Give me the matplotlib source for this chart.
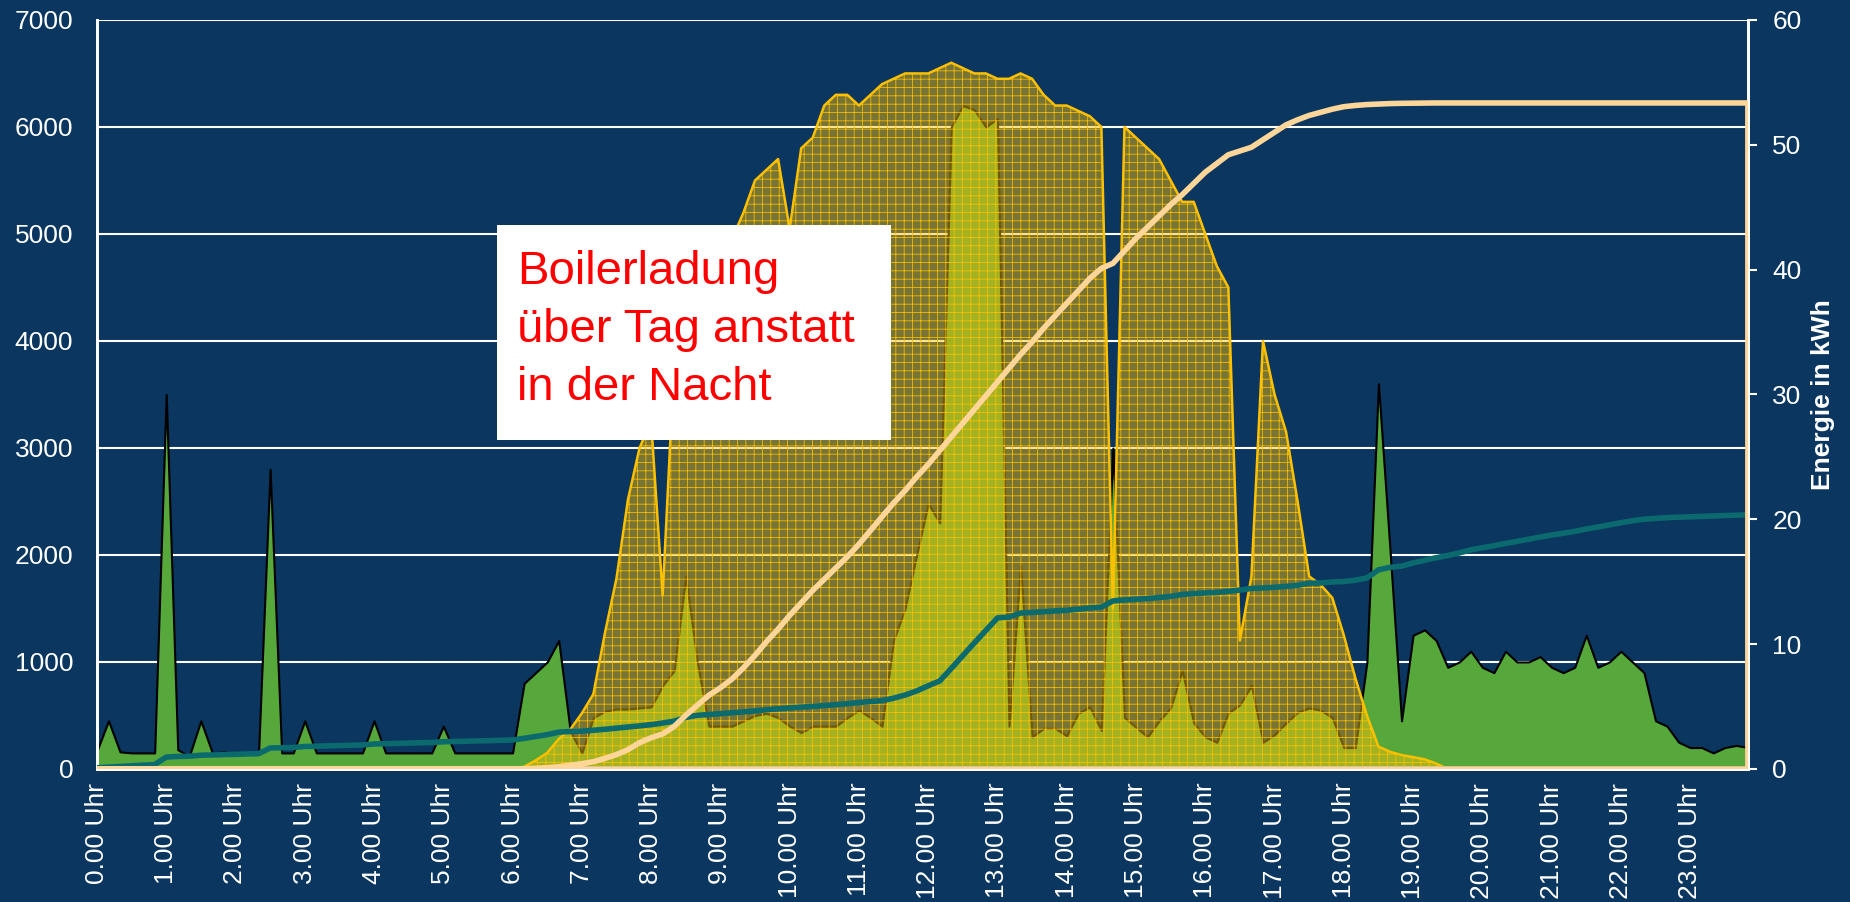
import numpy as np
import matplotlib
matplotlib.use("Agg")
import matplotlib.pyplot as plt
from matplotlib.patches import Rectangle

plt.rcParams['font.family'] = ['Liberation Sans', 'DejaVu Sans']
plt.rcParams['hatch.linewidth'] = 0.55

# 10-Minuten-Werte ueber den Tag (144 Werte), Leistung in W
verbrauch = [170, 450, 160, 150, 150, 150, 3500, 180, 120, 450, 150, 160,
             140, 140, 150, 2800, 150, 150, 450, 150, 150, 150, 150, 150,
             450, 150, 150, 150, 150, 150, 400, 150, 150, 150, 150, 150,
             150, 800, 900, 1000, 1200, 350, 150, 480, 540, 560, 560, 570,
             580, 780, 920, 1800, 1000, 400, 400, 400, 450, 500, 520, 480,
             400, 340, 400, 400, 400, 480, 550, 480, 400, 1200, 1500, 2000,
             2480, 2300, 6000, 6200, 6160, 6000, 6080, 400, 1900, 300, 380, 380,
             310, 520, 580, 360, 3000, 480, 390, 300, 450, 570, 920, 430,
             300, 250, 525, 600, 780, 250, 320, 430, 530, 570, 550, 480,
             200, 200, 1000, 3600, 2050, 450, 1250, 1300, 1200, 950, 1000, 1100,
             950, 900, 1100, 1000, 1000, 1050, 950, 900, 950, 1250, 950, 1000,
             1100, 1000, 900, 450, 400, 250, 200, 200, 150, 200, 220, 200]

pv = [0, 0, 0, 0, 0, 0, 0, 0, 0, 0, 0, 0,
      0, 0, 0, 0, 0, 0, 0, 0, 0, 0, 0, 0,
      0, 0, 0, 0, 0, 0, 0, 0, 0, 0, 0, 0,
      0, 20, 80, 150, 280, 370, 520, 700, 1270, 1780, 2520, 3000,
      3250, 1620, 3800, 4100, 4300, 4500, 4700, 4950, 5200, 5500, 5600, 5700,
      5050, 5800, 5900, 6200, 6300, 6300, 6200, 6300, 6400, 6450, 6500, 6500,
      6500, 6550, 6600, 6550, 6500, 6500, 6450, 6450, 6500, 6450, 6300, 6200,
      6200, 6150, 6100, 6000, 1500, 6000, 5900, 5800, 5700, 5500, 5300, 5300,
      5000, 4700, 4500, 1200, 1800, 4000, 3500, 3150, 2500, 1800, 1720, 1600,
      1250, 850, 500, 210, 160, 130, 110, 90, 50, 0, 0, 0,
      0, 0, 0, 0, 0, 0, 0, 0, 0, 0, 0, 0,
      0, 0, 0, 0, 0, 0, 0, 0, 0, 0, 0, 0]

# kumulierte Energie in kWh
energieVerbrauch = [0.1, 0.15, 0.2, 0.25, 0.3, 0.35, 0.95, 1.0, 1.02, 1.1, 1.12, 1.15,
                    1.17, 1.2, 1.22, 1.68, 1.7, 1.72, 1.8, 1.82, 1.85, 1.87, 1.9, 1.92,
                    2.0, 2.02, 2.05, 2.07, 2.1, 2.12, 2.18, 2.2, 2.22, 2.25, 2.27, 2.3,
                    2.32, 2.45, 2.6, 2.75, 2.95, 3.0, 3.03, 3.1, 3.18, 3.27, 3.36, 3.45,
                    3.55, 3.68, 3.83, 4.13, 4.3, 4.36, 4.43, 4.5, 4.57, 4.65, 4.74, 4.82,
                    4.89, 4.95, 5.01, 5.08, 5.15, 5.23, 5.32, 5.4, 5.47, 5.67, 5.92, 6.25,
                    6.66, 7.05, 8.05, 9.08, 10.1, 11.1, 12.1, 12.17, 12.49, 12.54, 12.6, 12.66,
                    12.71, 12.8, 12.9, 12.96, 13.46, 13.54, 13.6, 13.65, 13.73, 13.82, 13.98, 14.05,
                    14.1, 14.14, 14.23, 14.33, 14.46, 14.5, 14.55, 14.62, 14.71, 14.88, 14.9, 14.98,
                    15.01, 15.12, 15.3, 15.95, 16.15, 16.25, 16.5, 16.72, 16.92, 17.1, 17.3, 17.55,
                    17.72, 17.88, 18.06, 18.23, 18.4, 18.58, 18.74, 18.88, 19.03, 19.22, 19.38, 19.55,
                    19.72, 19.88, 20.0, 20.07, 20.13, 20.17, 20.2, 20.23, 20.26, 20.3, 20.33, 20.36]

energiePV = [0, 0, 0, 0, 0, 0, 0, 0, 0, 0, 0, 0,
             0, 0, 0, 0, 0, 0, 0, 0, 0, 0, 0, 0,
             0, 0, 0, 0, 0, 0, 0, 0, 0, 0, 0, 0,
             0, 0.02, 0.05, 0.1, 0.18, 0.3, 0.42, 0.58, 0.85, 1.15, 1.55, 2.1,
             2.5, 2.8, 3.4, 4.3, 5.1, 5.9, 6.5, 7.2, 8.1, 9.1, 10.2, 11.2,
             12.3, 13.3, 14.3, 15.2, 16.1, 17.0, 18.0, 19.1, 20.2, 21.3, 22.3, 23.4,
             24.4, 25.5, 26.6, 27.7, 28.8, 29.9, 31.0, 32.1, 33.2, 34.2, 35.3, 36.3,
             37.3, 38.3, 39.3, 40.1, 40.5, 41.5, 42.5, 43.4, 44.3, 45.2, 46.0, 46.9,
             47.8, 48.5, 49.2, 49.5, 49.8, 50.4, 51.0, 51.6, 52.0, 52.35, 52.6, 52.85,
             53.05, 53.15, 53.22, 53.26, 53.3, 53.32, 53.33, 53.34, 53.35, 53.35, 53.35, 53.35,
             53.35, 53.35, 53.35, 53.35, 53.35, 53.35, 53.35, 53.35, 53.35, 53.35, 53.35, 53.35,
             53.35, 53.35, 53.35, 53.35, 53.35, 53.35, 53.35, 53.35, 53.35, 53.35, 53.35, 53.35]

uhrzeiten = ["0.00 Uhr", "1.00 Uhr", "2.00 Uhr", "3.00 Uhr", "4.00 Uhr", "5.00 Uhr",
             "6.00 Uhr", "7.00 Uhr", "8.00 Uhr", "9.00 Uhr", "10.00 Uhr", "11.00 Uhr",
             "12.00 Uhr", "13.00 Uhr", "14.00 Uhr", "15.00 Uhr", "16.00 Uhr", "17.00 Uhr",
             "18.00 Uhr", "19.00 Uhr", "20.00 Uhr", "21.00 Uhr", "22.00 Uhr", "23.00 Uhr"]

hintergrund = '#0a365f'
x = np.arange(len(verbrauch))

fig = plt.figure(figsize=(18.5, 9.02), dpi=100, facecolor=hintergrund)
ax = fig.add_axes([0.0524, 0.1475, 0.8924, 0.8304])
ax.set_facecolor(hintergrund)

# Verbrauch (gruen) und PV-Leistung (gelb, schraffiert, halbtransparent)
ax.fill_between(x, verbrauch, 0, facecolor='#56a83b', edgecolor='black', linewidth=1.5, zorder=2)
ax.fill_between(x, pv, 0, facecolor=(1.0, 0.753, 0.0, 0.45), edgecolor='#ffc000',
                hatch='++', linewidth=1.8, zorder=3)

ax.set_xlim(0, len(x) - 1)
ax.set_ylim(0, 7000)
ax.set_yticks(range(0, 7001, 1000))
ax.set_xticks(x[::6])
ax.set_xticklabels(uhrzeiten, rotation=90, va='top', ha='center')
ax.yaxis.grid(True, color='white', linewidth=1.5)
ax.set_axisbelow(True)
ax.tick_params(axis='y', length=0, pad=17, labelsize=19, labelcolor='white')
ax.tick_params(axis='x', length=0, pad=10, labelsize=19, labelcolor='white')
for s in ax.spines.values():
    s.set_color('white')
    s.set_linewidth(2)
ax.spines['top'].set_visible(False)

# Energie (rechte Achse)
ax2 = ax.twinx()
ax2.fill_between(x, energieVerbrauch, 0, facecolor='none', edgecolor='#0b6a6e', linewidth=4, zorder=3)
ax2.fill_between(x, energiePV, 0, facecolor='none', edgecolor='#ffd699', linewidth=4, zorder=4)
ax2.set_ylim(0, 60)
ax2.set_yticks(range(0, 61, 10))
ax2.tick_params(axis='y', length=6.5, width=1.5, color='white', pad=11, labelsize=19, labelcolor='white')
for s in ax2.spines.values():
    s.set_color('white')
    s.set_linewidth(2)
ax2.spines['top'].set_visible(False)

fig.text(0.9854, 0.562, 'Energie in kWh', rotation=90, ha='center', va='center',
         fontsize=19, fontweight='bold', color='white')

# Textfeld
fig.add_artist(Rectangle((0.26865, 0.5122), 0.21297, 0.23836, transform=fig.transFigure,
                         facecolor='white', edgecolor='none', zorder=10))
fig.text(0.2795, 0.7229, 'Boilerladung\nüber Tag anstatt\nin der Nacht', ha='left', va='top',
         fontsize=34, color='#ff0000', linespacing=1.41, zorder=11)

fig.savefig('out.png', dpi=100, facecolor=hintergrund)
